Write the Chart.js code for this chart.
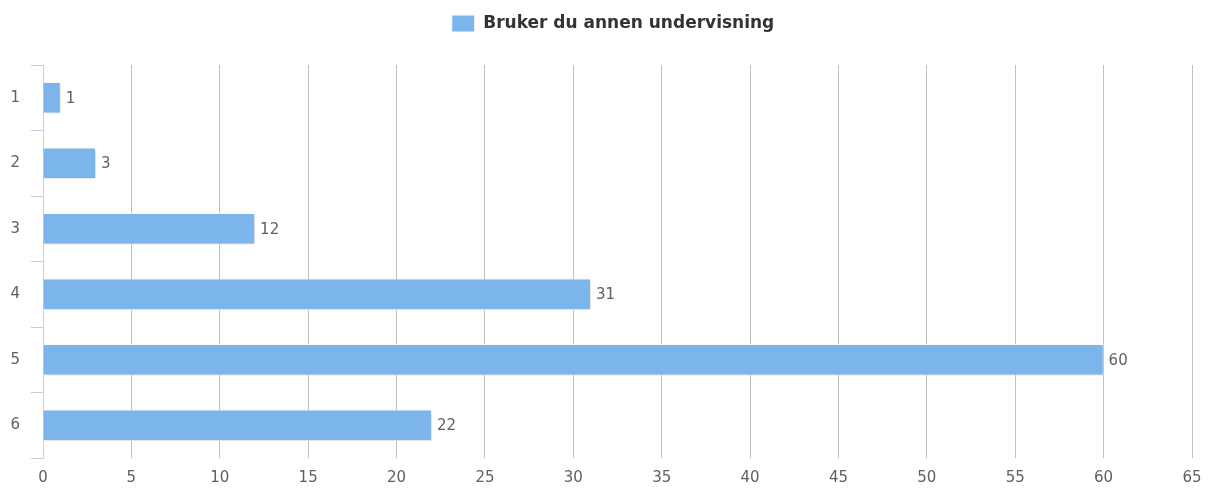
<!DOCTYPE html>
<html>
<head>
<meta charset="utf-8">
<script src="https://cdn.jsdelivr.net/npm/chart.js@4"></script>
<style>
  html, body { margin: 0; padding: 0; background: #fff; }
  #wrap { width: 1210px; height: 491px; }
</style>
</head>
<body>
<div id="wrap"><canvas id="c" width="1210" height="491"></canvas></div>
<script>
const categories = ['1', '2', '3', '4', '5', '6'];
const seriesName = 'Bruker du annen undervisning';
const values = [1, 3, 12, 31, 60, 22];
const xMin = 0, xMax = 65, xStep = 5;

const legendSpacer = {
  id: 'legendSpacer',
  beforeLayout(chart) {
    const lg = chart.legend;
    if (lg && !lg._spaced) {
      const orig = lg.fit.bind(lg);
      lg.fit = function () {
        orig();
        this.height += 23;
      };
      lg._spaced = true;
    }
  },
  afterLayout(chart) {
    const lg = chart.legend;
    if (lg) {
      lg.left += 17;
      lg.right += 17;
    }
  }
};

const barShadow = {
  id: 'barShadow',
  beforeDatasetDraw(chart) {
    const ctx = chart.ctx;
    ctx.save();
    ctx.shadowColor = 'rgba(0,0,0,0.22)';
    ctx.shadowBlur = 3;
    ctx.shadowOffsetX = 1;
    ctx.shadowOffsetY = 1;
  },
  afterDatasetDraw(chart) {
    chart.ctx.restore();
  }
};

const valueLabels = {
  id: 'valueLabels',
  afterDatasetsDraw(chart) {
    const ctx = chart.ctx;
    const meta = chart.getDatasetMeta(0);
    ctx.save();
    ctx.font = '15px "DejaVu Sans", sans-serif';
    ctx.fillStyle = '#606060';
    ctx.textAlign = 'left';
    ctx.textBaseline = 'middle';
    meta.data.forEach((bar, i) => {
      ctx.fillText(String(chart.data.datasets[0].data[i]), bar.x + 5, bar.y + 1);
    });
    ctx.restore();
  }
};

new Chart(document.getElementById('c'), {
  type: 'bar',
  data: {
    labels: categories,
    datasets: [{
      label: seriesName,
      data: values,
      backgroundColor: '#7cb5ec',
      borderColor: '#ffffff',
      borderWidth: 1,
      categoryPercentage: 0.48,
      barPercentage: 1.0
    }]
  },
  options: {
    indexAxis: 'y',
    responsive: false,
    animation: false,
    devicePixelRatio: 1,
    layout: { padding: { top: 7, right: 18, left: 0, bottom: 0 } },
    plugins: {
      legend: {
        display: true,
        position: 'top',
        labels: {
          boxWidth: 23,
          boxHeight: 17,
          color: '#333333',
          font: { family: '"DejaVu Sans", sans-serif', size: 17, weight: 'bold' },
          padding: 8
        }
      },
      tooltip: { enabled: false }
    },
    scales: {
      x: {
        min: xMin,
        max: xMax,
        ticks: {
          stepSize: xStep,
          color: '#606060',
          font: { family: '"DejaVu Sans", sans-serif', size: 15 },
          padding: 11
        },
        grid: {
          color: '#c0c0c0',
          drawTicks: false
        },
        border: { display: false },
        afterFit(scale) {
          scale.height = 33;
          scale.paddingRight = 0;
          scale.paddingLeft = 0;
        }
      },
      y: {
        offset: true,
        ticks: {
          color: '#606060',
          font: { family: '"DejaVu Sans", sans-serif', size: 15 },
          padding: 11
        },
        grid: {
          offset: true,
          drawOnChartArea: false,
          drawTicks: true,
          tickLength: 12,
          tickColor: '#c0d0e0'
        },
        border: { display: true, color: '#c0d0e0' },
        afterFit(scale) { scale.width = 43; }
      }
    }
  },
  plugins: [legendSpacer, barShadow, valueLabels]
});
</script>
</body>
</html>
